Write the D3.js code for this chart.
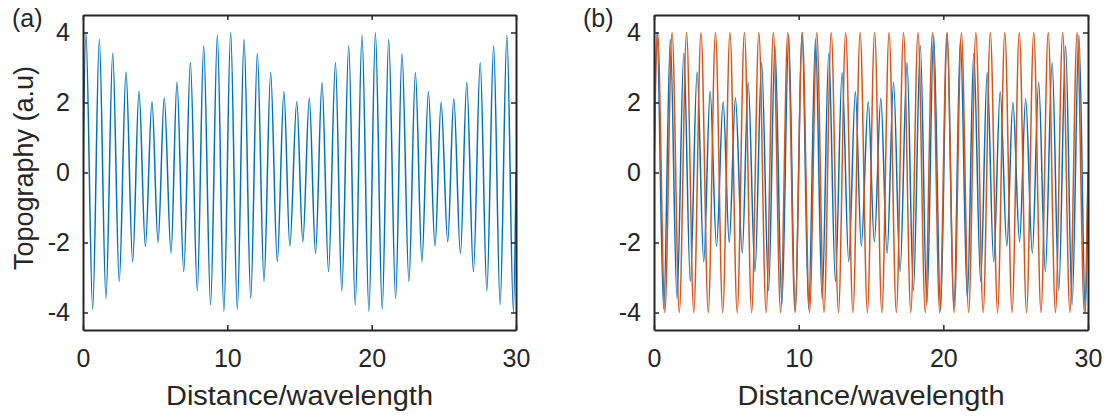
<!DOCTYPE html>
<html>
<head>
<meta charset="utf-8">
<script src="https://cdn.jsdelivr.net/npm/d3@7"></script>
<style>
  body { margin: 0; background: #fff; }
  text { font-family: "Liberation Sans", Arial, sans-serif; fill: #262626; }
</style>
</head>
<body>
<div id="chart"></div>
<script>
let width = 1110,
    height = 419;

// tick labels
const xTicks = [0, 10, 20, 30];
const yTicks = [-4, -2, 0, 2, 4];

// blue curve: peaks and troughs
const bluePeakX = [0.2, 1.13, 2.06, 2.98, 3.88, 4.78, 5.63, 6.51, 7.44, 8.36, 9.31,
  10.23, 11.16, 12.08, 13.0, 13.92, 14.81, 15.68, 16.56, 17.49, 18.41, 19.33,
  20.26, 21.18, 22.1, 23.03, 23.93, 24.81, 25.69, 26.59, 27.52, 28.45, 29.37];
const bluePeakY = [4.0, 3.81, 3.41, 2.87, 2.32, 2.02, 2.13, 2.58, 3.14, 3.62, 3.93,
  4.0, 3.81, 3.41, 2.86, 2.31, 2.02, 2.12, 2.57, 3.14, 3.62, 3.92,
  3.99, 3.8, 3.4, 2.86, 2.31, 2.0, 2.11, 2.57, 3.14, 3.62, 3.92];
const blueTroughX = [0.67, 1.59, 2.51, 3.44, 4.32, 5.2, 6.1, 6.98, 7.92, 8.84, 9.76,
  10.69, 11.62, 12.54, 13.46, 14.33, 15.23, 16.11, 17.01, 17.93, 18.86, 19.81,
  20.73, 21.66, 22.58, 23.48, 24.39, 25.27, 26.15, 27.05, 27.98, 28.9, 29.82];
const blueTroughY = [-3.91, -3.6, -3.11, -2.55, -2.11, -2.0, -2.3, -2.83, -3.38, -3.78, -3.97,
  -3.91, -3.6, -3.11, -2.55, -2.1, -1.98, -2.31, -2.83, -3.38, -3.78, -3.97,
  -3.91, -3.6, -3.11, -2.55, -2.1, -1.98, -2.31, -2.83, -3.38, -3.78, -3.98];

// orange curve in panel (b): crests at +4, troughs at -4
const orangePeakX = [0.25, 1.25, 2.25, 3.25, 4.25, 5.25, 6.25, 7.25, 8.25, 9.25,
  10.25, 11.25, 12.25, 13.25, 14.25, 15.25, 16.25, 17.25, 18.25, 19.25,
  20.25, 21.25, 22.25, 23.25, 24.25, 25.25, 26.25, 27.25, 28.25, 29.25];
const orangeTroughX = [0.75, 1.75, 2.75, 3.75, 4.75, 5.75, 6.75, 7.75, 8.75, 9.75,
  10.75, 11.75, 12.75, 13.75, 14.75, 15.75, 16.75, 17.75, 18.75, 19.75,
  20.75, 21.75, 22.75, 23.75, 24.75, 25.75, 26.75, 27.75, 28.75, 29.75];
const orangeAmp = 4;

// end points of both curves
const lineStart = [0, 0];
const lineEnd = [30, 0];

const blue = [lineStart]
  .concat(bluePeakX.map((x, i) => [x, bluePeakY[i]]))
  .concat(blueTroughX.map((x, i) => [x, blueTroughY[i]]))
  .concat([lineEnd])
  .sort((a, b) => a[0] - b[0]);

const orange = [lineStart]
  .concat(orangePeakX.map(x => [x, orangeAmp]))
  .concat(orangeTroughX.map(x => [x, -orangeAmp]))
  .concat([lineEnd])
  .sort((a, b) => a[0] - b[0]);

const svg = d3.select("#chart")
  .append("svg")
  .attr("width", width)
  .attr("height", height);

const plotTop = 15, plotBottom = 330;

function panel(left, right, label, series, id) {
  let x = d3.scaleLinear().domain([0, 30]).range([left, right]);
  let y = d3.scaleLinear().domain([-4.5, 4.5]).range([plotBottom, plotTop]);

  svg.append("clipPath").attr("id", id)
    .append("rect")
    .attr("x", left).attr("y", plotTop)
    .attr("width", right - left).attr("height", plotBottom - plotTop);

  let line = d3.line()
    .x(d => x(d[0]))
    .y(d => y(d[1]))
    .curve(d3.curveMonotoneX); // flat tangents at the crests and troughs

  series.forEach(s => {
    svg.append("path")
      .attr("clip-path", `url(#${id})`)
      .attr("d", line(s.data))
      .attr("fill", "none")
      .attr("stroke", s.color)
      .attr("stroke-width", 1.5);
  });

  // axes with inward ticks, box on all four sides
  const style = g => {
    g.select(".domain").attr("stroke", "#262626").attr("stroke-width", 2);
    g.selectAll(".tick line").attr("stroke", "#262626").attr("stroke-width", 1.5);
    g.selectAll("text").attr("font-size", 25).attr("fill", "#262626")
      .attr("font-family", "Liberation Sans, Arial, sans-serif");
  };

  svg.append("g")
    .attr("transform", `translate(0,${plotBottom})`)
    .call(d3.axisBottom(x).tickValues(xTicks).tickFormat(d => d).tickSize(-5).tickPadding(19).tickSizeOuter(0))
    .call(style);
  svg.append("g")
    .attr("transform", `translate(0,${plotTop})`)
    .call(d3.axisTop(x).tickValues(xTicks).tickSize(-5).tickFormat("").tickSizeOuter(0))
    .call(style);
  svg.append("g")
    .attr("transform", `translate(${left},0)`)
    .call(d3.axisLeft(y).tickValues(yTicks).tickFormat(d => d).tickSize(-5).tickPadding(13).tickSizeOuter(0))
    .call(style);
  svg.append("g")
    .attr("transform", `translate(${right},0)`)
    .call(d3.axisRight(y).tickValues(yTicks).tickSize(-5).tickFormat("").tickSizeOuter(0))
    .call(style);

  svg.append("text")
    .attr("x", (left + right) / 2)
    .attr("y", 405)
    .attr("text-anchor", "middle")
    .attr("font-size", 27)
    .attr("textLength", 267)
    .attr("lengthAdjust", "spacingAndGlyphs")
    .text("Distance/wavelength");

  svg.append("text")
    .attr("x", left - 71)
    .attr("y", 27)
    .attr("font-size", 25)
    .text(label);
}

panel(83, 516, "(a)", [{ data: blue, color: "#0072BD" }], "clipA");
panel(654, 1088, "(b)", [{ data: blue, color: "#0072BD" }, { data: orange, color: "#D95319" }], "clipB");

svg.append("text")
  .attr("transform", "translate(33,168) rotate(-90)")
  .attr("text-anchor", "middle")
  .attr("font-size", 27)
  .text("Topography (a.u)");
</script>
</body>
</html>
